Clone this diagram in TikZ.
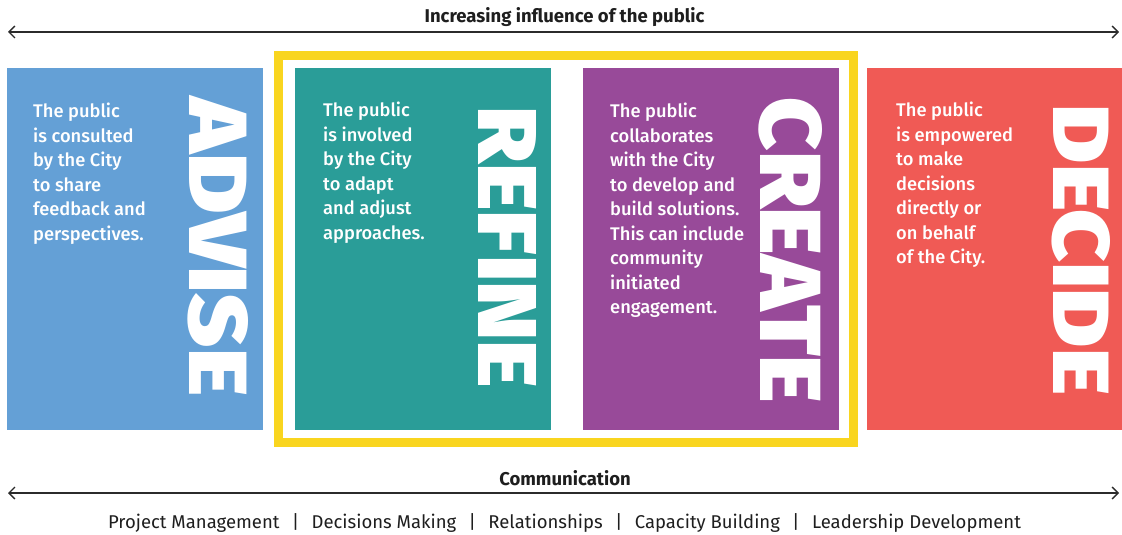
\documentclass[tikz,border=0pt]{standalone}
\usepackage{fontspec}
\setmainfont{Fira Sans}
\newfontfamily\heavy{Fira Sans Black}
\newfontfamily\medium{Fira Sans Medium}
\usetikzlibrary{arrows.meta}
\definecolor{cblue}{HTML}{64A0D6}
\definecolor{cteal}{HTML}{2A9D98}
\definecolor{cpurple}{HTML}{984A99}
\definecolor{cred}{HTML}{F05A55}
\definecolor{cyellow}{HTML}{F9D51F}
\definecolor{cline}{HTML}{2B2B2B}
\definecolor{ctext}{HTML}{1E1E1E}
\tikzset{
  panel/.style={draw=none, inner sep=0pt, minimum width=256pt, minimum height=362pt, anchor=north west},
  body/.style={text=white, font=\medium\fontsize{18.3}{24.5}\selectfont, align=left, anchor=north west, inner sep=0pt},
  big/.style={text=white, rotate=-90, inner sep=0pt, anchor=center},
  scaleline/.style={draw=cline, line width=1.5pt, {Straight Barb[length=6pt,width=12pt,line width=1.3pt]}-{Straight Barb[length=6pt,width=12pt,line width=1.3pt]}},
  head/.style={text=ctext, font=\bfseries\fontsize{18.5}{20}\selectfont, inner sep=0pt},
  frame/.style={draw=cyellow, line width=9pt}
}
\begin{document}
\begin{tikzpicture}[x=1pt,y=-1pt]
\useasboundingbox (0,0) rectangle (1122,535);
% top scale
\node[head] (toplabel) at (564.5,17) {Increasing influence of the public};
\coordinate (tl) at (8,32);
\coordinate (tr) at (1119,32);
\draw[scaleline] (tl) -- (tr);
% yellow frame
\draw[frame] (278.5,55.5) rectangle (853,442.5);
% panels
\node[panel, fill=cblue] (advise) at (7,68) {};
\node[panel, fill=cteal] (refine) at (295,68) {};
\node[panel, fill=cpurple] (create) at (583,68) {};
\node[panel, fill=cred, minimum width=255pt] (decide) at (867,68) {};
% big words
\node[big] (adviseW) at (218.5,247) {\resizebox{298pt}{59pt}{\heavy ADVISE}};
\node[big] (refineW) at (508,247.5) {\resizebox{281pt}{58pt}{\heavy REFINE}};
\node[big] (createW) at (791,250.5) {\resizebox{305pt}{62pt}{\heavy CREATE}};
\node[big] (decideW) at (1081.5,250) {\resizebox{290pt}{57pt}{\heavy DECIDE}};
% body texts
\node[body] (adviseT) at (33,103) {The public\\is consulted\\by the City\\to share\\feedback and\\perspectives.};
\node[body] (refineT) at (323,102) {The public\\is involved\\by the City\\to adapt\\and adjust\\approaches.};
\node[body] (createT) at (610,103) {The public\\collaborates\\with the City\\to develop and\\build solutions.\\This can include\\community\\initiated\\engagement.};
\node[body] (decideT) at (896,102) {The public\\is empowered\\to make\\decisions\\directly or\\on behalf\\of the City.};
% bottom scale
\node[head] (comm) at (565,478) {Communication};
\coordinate (bl) at (8,493);
\coordinate (br) at (1119,493);
\draw[scaleline] (bl) -- (br);
\node[text=ctext, font=\fontsize{18.5}{20}\selectfont, inner sep=0pt] (areas) at (564.5,523.5)
  {Project Management\enspace\,|\enspace\,Decisions Making\enspace\,|\enspace\,Relationships\enspace\,|\enspace\,Capacity Building\enspace\,|\enspace\,Leadership Development};
\end{tikzpicture}
\end{document}
